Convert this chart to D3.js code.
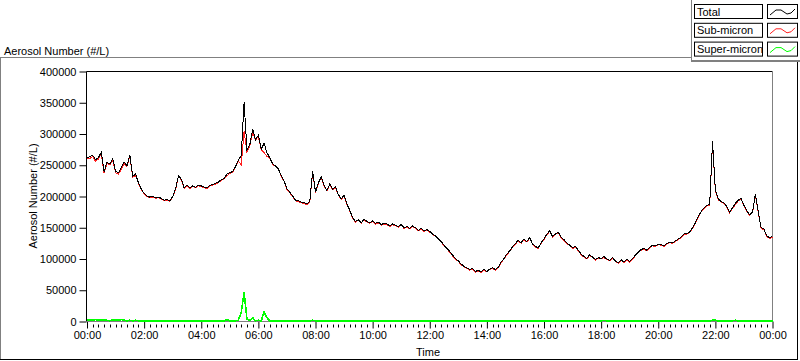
<!DOCTYPE html>
<html>
<head>
<meta charset="utf-8">
<script src="https://cdn.jsdelivr.net/npm/d3@7"></script>
<style>
  body { margin: 0; background: #fff; }
  text { font-family: "Liberation Sans", Arial, sans-serif; font-size: 11px; fill: #000; }
</style>
</head>
<body>
<div id="chart"></div>
<script>
// muestras cada 6 minutos, de 00:00 a 24:00 (valores en miles de #/L)
var stepHours = 0.1;
var unit = 1000;

var total = [
  262,264,266,259,262,271,240,255,252,261,
  240,238,246,255,249,267,232,236,222,212,
  205,201,199,200,198,199,197,194,195,193,
  200,212,233,228,214,218,214,217,215,218,
  217,215,214,218,219,221,223,227,229,236,
  238,240,248,258,266,351,275,283,308,291,
  298,276,285,270,262,252,249,244,234,225,
  212,207,201,194,193,191,190,188,192,241,
  207,222,231,218,210,220,212,216,203,196,
  202,188,178,166,160,163,158,164,160,158,
  161,157,159,155,157,156,153,156,154,152,
  155,150,152,149,153,150,146,149,145,147,
  144,140,137,132,128,122,117,112,106,101,
  97,92,88,86,83,85,80,82,79,84,
  80,84,86,83,87,95,101,108,113,120,
  125,130,126,132,128,134,124,120,118,126,
  132,140,145,136,140,143,135,131,126,122,
  118,120,114,108,104,101,107,103,99,102,
  101,104,100,98,102,97,94,99,95,100,
  96,101,106,111,115,117,114,119,122,121,
  124,123,121,125,127,126,129,132,135,140,
  141,143,150,158,168,176,182,186,187,288,
  210,196,192,190,184,175,182,189,194,197,
  186,177,171,175,204,176,150,148,137,134,
  136
];

var subMicron = [
  260,261,264,256,260,269,237,253,251,258,
  238,236,243,253,248,265,231,234,221,211,
  204,200,198,199,197,198,196,193,194,192,
  199,211,232,227,213,217,213,216,214,217,
  216,214,213,217,218,220,222,226,228,233,
  237,239,247,256,251,304,271,281,302,290,
  296,275,270,264,261,251,248,243,233,224,
  211,206,200,193,192,190,189,187,191,239,
  206,221,230,217,209,219,211,215,202,195,
  201,187,177,165,159,162,157,163,159,157,
  160,156,158,154,156,155,152,155,153,151,
  154,149,151,148,152,149,145,148,144,146,
  143,139,136,131,127,121,116,111,105,100,
  96,91,87,85,82,84,79,81,78,83,
  79,83,85,82,86,94,100,107,112,119,
  124,129,125,131,127,133,123,119,117,125,
  131,139,144,135,139,142,134,130,125,121,
  117,119,113,107,103,100,106,102,98,101,
  100,102,99,97,101,96,93,98,94,99,
  95,100,105,110,114,116,113,118,121,120,
  123,122,120,124,126,125,128,131,134,139,
  140,142,149,157,167,175,181,185,186,286,
  208,195,191,189,183,174,181,187,193,196,
  185,176,170,174,203,175,149,147,136,133,
  135
];

var superMicron = [
  2,3,2,3,2,2,3,2,1,3,
  2,2,3,2,1,2,1,2,1,1,
  1,1,1,1,1,1,1,1,1,1,
  1,1,1,1,1,1,1,1,1,1,
  1,1,1,1,1,1,1,1,1,3,
  1,1,1,2,15,47,4,2,6,1,
  2,1,15,6,1,1,1,1,1,1,
  1,1,1,1,1,1,1,1,1,2,
  1,1,1,1,1,1,1,1,1,1,
  1,1,1,1,1,1,1,1,1,1,
  1,1,1,1,1,1,1,1,1,1,
  1,1,1,1,1,1,1,1,1,1,
  1,1,1,1,1,1,1,1,1,1,
  1,1,1,1,1,1,1,1,1,1,
  1,1,1,1,1,1,1,1,1,1,
  1,1,1,1,1,1,1,1,1,1,
  1,1,1,1,1,1,1,1,1,1,
  1,1,1,1,1,1,1,1,1,1,
  1,2,1,1,1,1,1,1,1,1,
  1,1,1,1,1,1,1,1,1,1,
  1,1,1,1,1,1,1,1,1,1,
  1,1,1,1,1,1,1,1,1,2,
  2,1,1,1,1,1,1,2,1,1,
  1,1,1,1,1,1,1,1,1,1,
  1
];

var seriesNames = ["Total", "Sub-micron", "Super-micron"];
var seriesColors = ["#000000", "#ff2020", "#00ff00"];
var yTicks = [0, 50000, 100000, 150000, 200000, 250000, 300000, 350000, 400000];
var xTicks = [0, 2, 4, 6, 8, 10, 12, 14, 16, 18, 20, 22, 24];

var W = 800, H = 361;
var plot = {left: 86.5, right: 772.5, top: 71.5, bottom: 321.5};

var svg = d3.select("#chart")
  .append("svg")
    .attr("width", W)
    .attr("height", H);

// marco exterior (estilo panel)
svg.append("line").attr("x1", 0).attr("x2", 691).attr("y1", 57.5).attr("y2", 57.5).attr("stroke", "#808080");
svg.append("line").attr("x1", 0.5).attr("x2", 0.5).attr("y1", 57.5).attr("y2", 360).attr("stroke", "#808080");
svg.append("line").attr("x1", 691.5).attr("x2", 691.5).attr("y1", 0).attr("y2", 62).attr("stroke", "#808080");
svg.append("line").attr("x1", 691).attr("x2", 800).attr("y1", 61).attr("y2", 61).attr("stroke", "#808080").attr("stroke-width", 2);
svg.append("line").attr("x1", 797.5).attr("x2", 797.5).attr("y1", 62).attr("y2", 360).attr("stroke", "#000");
svg.append("line").attr("x1", 0).attr("x2", 798).attr("y1", 359.5).attr("y2", 359.5).attr("stroke", "#000");

// escalas
var x = d3.scaleLinear().domain([0, 24]).range([plot.left + 0.5, plot.right]);
var y = d3.scaleLinear().domain([0, 400000]).range([plot.bottom, plot.top]);

// eje Y
var yAxis = svg.append("g")
  .attr("transform", "translate(" + plot.left + ",0)")
  .call(d3.axisLeft(y).tickValues(yTicks).tickFormat(d3.format("d")).tickSize(7).tickPadding(3).tickSizeOuter(0));
yAxis.select(".domain").remove();
yAxis.selectAll("line").attr("stroke", "#000");
yAxis.selectAll("text").style("font-size", "11px").attr("font-family", null);

// eje X
var xAxis = svg.append("g")
  .attr("transform", "translate(0," + plot.bottom + ")")
  .call(d3.axisBottom(x).tickValues(xTicks)
    .tickFormat(function(d) { return d3.format("02d")(d % 24) + ":00"; })
    .tickSize(7).tickPadding(3).tickSizeOuter(0));
xAxis.select(".domain").remove();
xAxis.selectAll("line").attr("stroke", "#000");
xAxis.selectAll("text").style("font-size", "11px").attr("font-family", null);

// marcas menores cada 12 minutos
var minor = d3.range(0, 24.001, 0.2).filter(function(d) { return Math.abs(d / 2 - Math.round(d / 2)) > 0.01; });
svg.append("g").selectAll("line")
  .data(minor)
  .enter()
  .append("line")
    .attr("x1", function(d) { return Math.round(x(d)) + 0.5; })
    .attr("x2", function(d) { return Math.round(x(d)) + 0.5; })
    .attr("y1", plot.bottom + 3)
    .attr("y2", plot.bottom + 6)
    .attr("stroke", "#000");

// caja del área de dibujo
svg.append("line").attr("x1", plot.left).attr("x2", plot.right).attr("y1", plot.top).attr("y2", plot.top).attr("stroke", "#000");
svg.append("line").attr("x1", plot.left).attr("x2", plot.left).attr("y1", plot.top).attr("y2", plot.bottom).attr("stroke", "#000");
svg.append("line").attr("x1", plot.right).attr("x2", plot.right).attr("y1", plot.top).attr("y2", plot.bottom).attr("stroke", "#808080");
svg.append("line").attr("x1", plot.left).attr("x2", plot.right).attr("y1", plot.bottom).attr("y2", plot.bottom).attr("stroke", "#808080");

// series
var line = d3.line()
  .x(function(d, i) { return x(i * stepHours); })
  .y(function(d) { return y(d * unit); });

var order = [subMicron, total, superMicron];
var orderColors = [seriesColors[1], seriesColors[0], seriesColors[2]];
order.forEach(function(s, k) {
  svg.append("path")
    .datum(s)
    .attr("d", line)
    .attr("fill", "none")
    .attr("stroke", orderColors[k])
    .attr("stroke-width", k == 2 ? 1.6 : 1)
    .style("shape-rendering", "crispEdges");
});

// títulos
svg.append("text")
  .attr("x", 4)
  .attr("y", 55)
  .text("Aerosol Number (#/L)");

svg.append("text")
  .attr("text-anchor", "middle")
  .attr("transform", "translate(37,196) rotate(-90)")
  .text("Aerosol Number (#/L)");

svg.append("text")
  .attr("text-anchor", "middle")
  .attr("x", 428)
  .attr("y", 356)
  .text("Time");

// leyenda
var legend = svg.append("g").selectAll("g")
  .data(seriesNames)
  .enter()
  .append("g")
    .attr("transform", function(d, i) { return "translate(0," + (4 + i * 18.8) + ")"; });

legend.append("rect")
  .attr("x", 694.5).attr("y", 0.5).attr("width", 68).attr("height", 14)
  .attr("fill", "#fff").attr("stroke", "#000");
legend.append("text")
  .attr("x", 697).attr("y", 11.5)
  .text(function(d) { return d; });
legend.append("rect")
  .attr("x", 767.5).attr("y", 0.5).attr("width", 30).attr("height", 14)
  .attr("fill", "#fff").attr("stroke", "#000");
legend.append("polyline")
  .attr("points", "770,11 776,6 781,6 787,10 791,9 795,5")
  .attr("fill", "none")
  .attr("stroke", function(d, i) { return seriesColors[i]; });
</script>
</body>
</html>
